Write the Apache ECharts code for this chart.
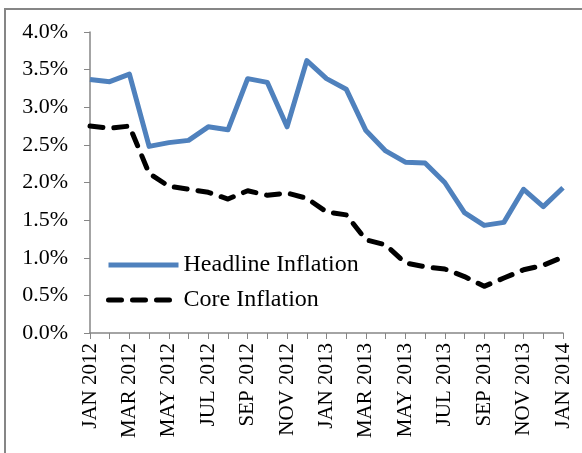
<!DOCTYPE html>
<html>
<head>
<meta charset="utf-8">
<script src="https://cdn.jsdelivr.net/npm/echarts@6/dist/echarts.min.js"></script>
<style>
  html, body { margin: 0; padding: 0; background: #fff; }
  #chart { width: 582px; height: 453px; }
</style>
</head>
<body>
<div id="chart"></div>
<script>
// months, Jan 2012 .. Jan 2014
var months = ['JAN 2012', 'FEB 2012', 'MAR 2012', 'APR 2012', 'MAY 2012', 'JUN 2012',
  'JUL 2012', 'AUG 2012', 'SEP 2012', 'OCT 2012', 'NOV 2012', 'DEC 2012',
  'JAN 2013', 'FEB 2013', 'MAR 2013', 'APR 2013', 'MAY 2013', 'JUN 2013',
  'JUL 2013', 'AUG 2013', 'SEP 2013', 'OCT 2013', 'NOV 2013', 'DEC 2013', 'JAN 2014'];

var headline = [3.37, 3.34, 3.44, 2.48, 2.53, 2.56, 2.74, 2.70, 3.38, 3.33, 2.74, 3.62,
  3.38, 3.24, 2.69, 2.42, 2.27, 2.26, 2.00, 1.60, 1.43, 1.47, 1.91, 1.68, 1.93];

var core = [2.75, 2.72, 2.75, 2.12, 1.95, 1.91, 1.87, 1.78, 1.89, 1.83, 1.86, 1.79,
  1.61, 1.57, 1.24, 1.17, 0.93, 0.88, 0.85, 0.75, 0.62, 0.73, 0.84, 0.90, 1.01];

var seriesNames = ['Headline Inflation', 'Core Inflation'];

var font = 'Liberation Serif, Times New Roman, serif';
var axisGrey = '#868686';

var myChart = echarts.init(document.getElementById('chart'));

var option = {
  backgroundColor: '#fff',
  animation: false,
  textStyle: { fontFamily: font, color: '#000' },
  graphic: [{
    type: 'rect',
    shape: { x: 5, y: 9, width: 620, height: 500 },
    style: { fill: 'none', stroke: axisGrey, lineWidth: 2 },
    silent: true
  }],
  grid: { left: 90, right: 19, top: 32, bottom: 120, containLabel: false },
  legend: {
    orient: 'vertical',
    left: 106,
    top: 253,
    padding: 0,
    itemWidth: 70,
    itemHeight: 10,
    itemGap: 11,
    itemStyle: { opacity: 0 },
    lineStyle: { width: 5 },
    textStyle: { fontFamily: font, fontSize: 24, lineHeight: 24, color: '#000' },
    data: seriesNames
  },
  xAxis: {
    type: 'category',
    data: months,
    boundaryGap: false,
    axisLine: { lineStyle: { color: axisGrey, width: 1.5 } },
    axisTick: { show: true, interval: 0, length: 6, lineStyle: { color: axisGrey } },
    axisLabel: {
      interval: 1,
      rotate: 90,
      margin: 10,
      fontFamily: font,
      fontSize: 21,
      color: '#000'
    },
    splitLine: { show: false }
  },
  yAxis: {
    type: 'value',
    min: 0,
    max: 4,
    interval: 0.5,
    axisLine: { show: true, lineStyle: { color: axisGrey, width: 1.5 } },
    axisTick: { show: true, length: 6, lineStyle: { color: axisGrey } },
    axisLabel: {
      margin: 22,
      fontFamily: font,
      fontSize: 22,
      color: '#000',
      formatter: function(v) { return v.toFixed(1) + '%'; }
    },
    splitLine: { show: false }
  },
  series: [{
    name: seriesNames[0],
    type: 'line',
    data: headline,
    symbol: 'none',
    color: '#4F81BD',
    lineStyle: { color: '#4F81BD', width: 5, join: 'round' }
  }, {
    name: seriesNames[1],
    type: 'line',
    data: core,
    symbol: 'none',
    color: '#000',
    lineStyle: { color: '#000', width: 5, type: [13, 11], cap: 'round', join: 'round' }
  }]
};

myChart.setOption(option);
</script>
</body>
</html>
